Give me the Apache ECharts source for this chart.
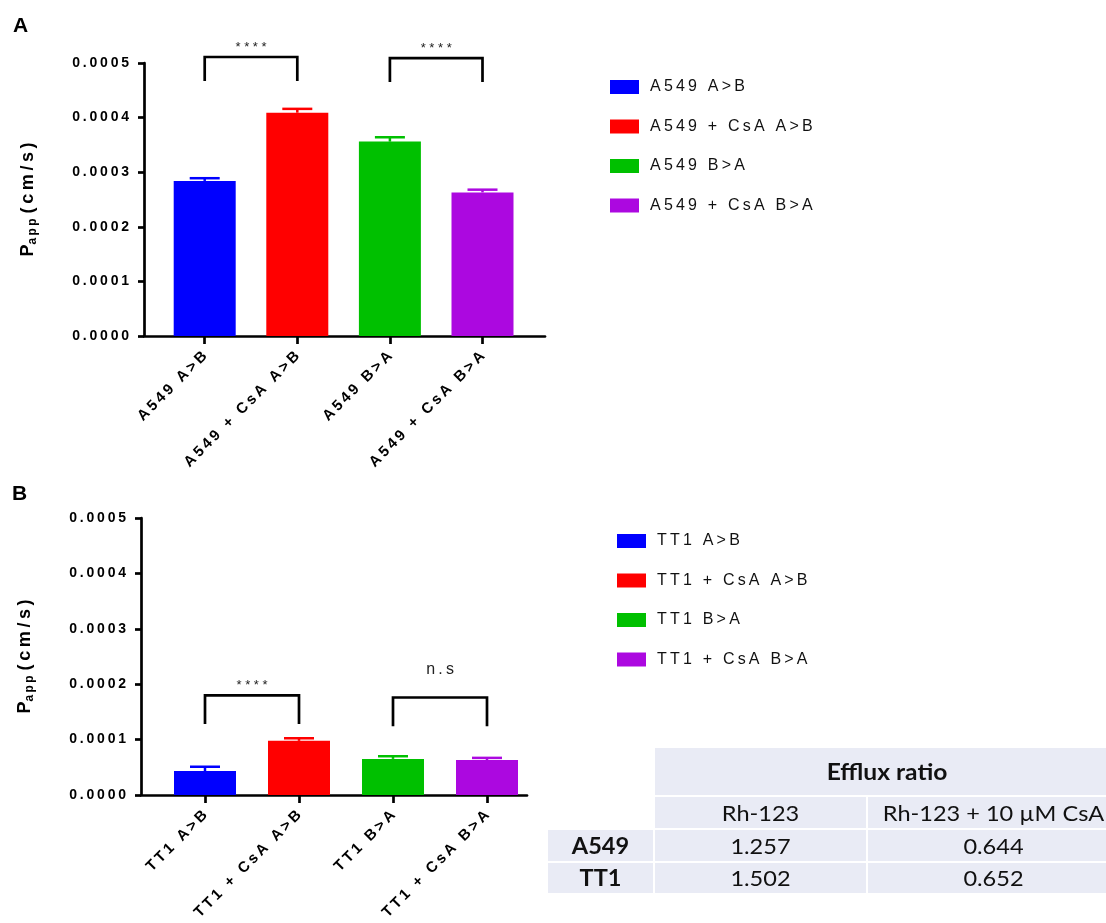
<!DOCTYPE html>
<html>
<head>
<meta charset="utf-8">
<script src="https://cdn.jsdelivr.net/npm/echarts@6/dist/echarts.min.js"></script>
<style>
  html, body { margin: 0; padding: 0; background: #ffffff; }
  #chart { width: 1106px; height: 923px; }
</style>
</head>
<body>
<div id="chart"></div>
<script>
// Panel A: A549 monolayers, apparent permeability (cm/s)
const categoriesA = ['A549 A>B', 'A549 + CsA A>B', 'A549 B>A', 'A549 + CsA B>A'];
const pappA = [0.000284, 0.000409, 0.000356, 0.000263];
const semA = [0.000005, 0.000007, 0.000008, 0.000005];

// Panel B: TT1 monolayers, apparent permeability (cm/s)
const categoriesB = ['TT1 A>B', 'TT1 + CsA A>B', 'TT1 B>A', 'TT1 + CsA B>A'];
const pappB = [0.0000432, 0.0000977, 0.0000652, 0.0000630];
const semB = [0.0000078, 0.0000047, 0.0000048, 0.0000040];

// Shared y axis ticks
const yTicks = [0, 0.0001, 0.0002, 0.0003, 0.0004, 0.0005];

// Significance brackets: [from, to, leg end, bracket top, label]
const sigA = [[0, 1, 0.000467, 0.000511, '****'], [2, 3, 0.000465, 0.000509, '****']];
const sigB = [[0, 1, 0.000128, 0.000180, '****'], [2, 3, 0.000124, 0.000176, 'n.s']];

// Efflux ratio table
const tableTitle = 'Efflux ratio';
const tableColumns = ['Rh-123', 'Rh-123 + 10 µM CsA'];
const tableRows = ['A549', 'TT1'];
const effluxRh123 = [1.257, 1.502];
const effluxRh123CsA = [0.644, 0.652];

// ---- styling ----
const palette = ['#0000FF', '#FF0000', '#00C000', '#AC08E0'];
const FONT = 'Liberation Sans, Arial, sans-serif';
const TABLE_FONT = 'Lato, "Open Sans", sans-serif';
const AXIS_W = 2.7;
const labelGap = { '****': 3, 'n.s': 20 };

// Prism-style tracking: characters set apart by a thin space
const spaced = s => s.split('').join('\u2009');

function barSeries(categories, values, axisIdx) {
  return categories.map((name, i) => ({
    type: 'bar', name,
    xAxisIndex: axisIdx, yAxisIndex: axisIdx,
    barWidth: 62, barGap: '-100%',
    data: values.map((v, j) => (j === i ? v : '-')),
    itemStyle: { color: palette[i] },
    z: 3, silent: true
  }));
}

function errorSeries(values, errs, axisIdx) {
  return {
    type: 'custom', xAxisIndex: axisIdx, yAxisIndex: axisIdx, z: 4, silent: true,
    data: values.map((v, i) => [i, v, v + errs[i]]),
    renderItem(params, api) {
      const i = api.value(0);
      const base = api.coord([i, api.value(1)]);
      const top = api.coord([i, api.value(2)]);
      const col = palette[i];
      return {
        type: 'group',
        children: [
          { type: 'line', shape: { x1: base[0], y1: base[1], x2: top[0], y2: top[1] },
            style: { stroke: col, lineWidth: 2.5 } },
          { type: 'line', shape: { x1: top[0] - 15, y1: top[1], x2: top[0] + 15, y2: top[1] },
            style: { stroke: col, lineWidth: 2.5 } }
        ]
      };
    }
  };
}

function bracketSeries(sig, axisIdx) {
  return {
    type: 'custom', xAxisIndex: axisIdx, yAxisIndex: axisIdx, z: 5, silent: true, clip: false,
    data: sig.map(s => [s[0], s[1], s[2], s[3]]),
    renderItem(params, api) {
      const label = sig[params.dataIndex][4];
      const a = api.coord([api.value(0), api.value(2)]);
      const b = api.coord([api.value(0), api.value(3)]);
      const c = api.coord([api.value(1), api.value(3)]);
      const d = api.coord([api.value(1), api.value(2)]);
      const isStars = label === '****';
      return {
        type: 'group',
        children: [
          { type: 'polyline', shape: { points: [a, b, c, d] },
            style: { stroke: '#000', lineWidth: AXIS_W, fill: null } },
          { type: 'text', x: (b[0] + c[0]) / 2, y: b[1] - labelGap[label],
            style: { text: isStars ? label.split('').join(' ') : spaced(label),
                     align: 'center', verticalAlign: 'bottom',
                     font: (isStars ? '13px ' : '16px ') + FONT, fill: '#222' } }
        ]
      };
    }
  };
}

const yRange = { min: yTicks[0], max: yTicks[yTicks.length - 1], interval: yTicks[1] - yTicks[0] };

function categoryAxis(categories, gridIndex) {
  return {
    type: 'category', gridIndex, data: categories,
    axisLine: { show: false },
    axisTick: { show: true, alignWithLabel: true, length: 8, lineStyle: { color: '#000', width: AXIS_W } },
    axisLabel: { rotate: 45, margin: 18, interval: 0, formatter: spaced,
                 fontFamily: FONT, fontWeight: 'bold', fontSize: 15, color: '#000' },
    splitLine: { show: false }
  };
}

function frameXAxis(gridIndex) {
  return {
    type: 'value', gridIndex, min: 0, max: 1,
    axisLine: { show: true, lineStyle: { color: '#000', width: AXIS_W } },
    axisTick: { show: false }, axisLabel: { show: false }, splitLine: { show: false }
  };
}

function frameYAxis(gridIndex) {
  return Object.assign({
    type: 'value', gridIndex,
    name: '{b|P}{s|' + spaced('app') + '}{b| ' + spaced('(cm/s)') + '}',
    nameLocation: 'middle', nameGap: 105, nameRotate: 90,
    nameTextStyle: {
      rich: {
        b: { fontFamily: FONT, fontWeight: 'bold', fontSize: 18, color: '#000', lineHeight: 22, verticalAlign: 'middle' },
        s: { fontFamily: FONT, fontWeight: 'bold', fontSize: 12, color: '#000', lineHeight: 12, verticalAlign: 'bottom' }
      }
    },
    axisLine: { show: true, lineStyle: { color: '#000', width: AXIS_W } },
    axisTick: { show: true, length: 6, lineStyle: { color: '#000', width: AXIS_W } },
    axisLabel: { margin: 15, formatter: v => spaced(v.toFixed(4)),
                 fontFamily: FONT, fontWeight: 'bold', fontSize: 14, color: '#000' },
    splitLine: { show: false }
  }, yRange);
}

function hiddenYAxis(gridIndex) {
  return Object.assign({ type: 'value', gridIndex, show: false, splitLine: { show: false } }, yRange);
}

// ---- table laid out on its own grid (last column runs past the page edge) ----
const colWidths = [107, 213, 253];
const rowHeights = [49, 33, 33, 32];
const tableVisibleWidth = 559;
const colEdges = colWidths.reduce((acc, w) => acc.concat(acc[acc.length - 1] + w), [0]);
const rowEdges = rowHeights.reduce((acc, h) => acc.concat(acc[acc.length - 1] + h), [0]);

const tableCells = [
  { c0: 1, c1: 3, r: 0, text: tableTitle, bold: true, size: 23 },
  { c0: 1, c1: 2, r: 1, text: tableColumns[0], bold: false, size: 22 },
  { c0: 2, c1: 3, r: 1, text: tableColumns[1], bold: false, size: 22 }
];
tableRows.forEach((name, i) => {
  tableCells.push({ c0: 0, c1: 1, r: 2 + i, text: name, bold: true, size: 22 });
  tableCells.push({ c0: 1, c1: 2, r: 2 + i, text: effluxRh123[i].toFixed(3), bold: false, size: 22 });
  tableCells.push({ c0: 2, c1: 3, r: 2 + i, text: effluxRh123CsA[i].toFixed(3), bold: false, size: 22 });
});

const tableSeries = {
  type: 'custom', xAxisIndex: 4, yAxisIndex: 4, silent: true, clip: false,
  data: tableCells.map(c => [colEdges[c.c0], colEdges[c.c1], rowEdges[c.r], rowEdges[c.r + 1]]),
  renderItem(params, api) {
    const cell = tableCells[params.dataIndex];
    const p0 = api.coord([api.value(0), api.value(2)]);
    const p1 = api.coord([api.value(1), api.value(3)]);
    const x = Math.min(p0[0], p1[0]), y = Math.min(p0[1], p1[1]);
    const w = Math.abs(p1[0] - p0[0]), h = Math.abs(p1[1] - p0[1]);
    return {
      type: 'group',
      children: [
        { type: 'rect', shape: { x: x + 1, y: y + 1, width: w - 2, height: h - 2 },
          style: { fill: '#E9EBF5' } },
        { type: 'text', x: x + w / 2, y: y + h / 2 + 1, scaleX: 1.07,
          style: { text: cell.text, align: 'center', verticalAlign: 'middle',
                   font: (cell.bold ? 'bold ' : '') + cell.size + 'px ' + TABLE_FONT, fill: '#111' } }
      ]
    };
  }
};

function legendFor(categories, left, top) {
  return {
    data: categories, orient: 'vertical', left, top,
    icon: 'rect', itemWidth: 29, itemHeight: 14, itemGap: 23.5,
    selectedMode: false, formatter: spaced,
    textStyle: { fontFamily: FONT, fontSize: 16, color: '#111', lineHeight: 14, padding: [0, 0, 0, 6] }
  };
}

const chart = echarts.init(document.getElementById('chart'), null, { renderer: 'canvas' });
chart.setOption({
  animation: false,
  backgroundColor: '#ffffff',
  graphic: [
    { type: 'text', left: 13, top: 16, style: { text: 'A', font: 'bold 21px ' + FONT, fill: '#000' } },
    { type: 'text', left: 12, top: 484, style: { text: 'B', font: 'bold 21px ' + FONT, fill: '#000' } }
  ],
  legend: [legendFor(categoriesA, 605, 74), legendFor(categoriesB, 612, 528)],
  grid: [
    { left: 158.4, top: 63, width: 370.4, height: 273 },   // A bars
    { left: 144, top: 63, width: 401, height: 273 },       // A axes frame
    { left: 158, top: 518, width: 376, height: 277 },      // B bars
    { left: 141, top: 518, width: 386, height: 277 },      // B axes frame
    { left: 547, top: 747, width: tableVisibleWidth, height: rowEdges[rowEdges.length - 1] } // table
  ],
  xAxis: [
    categoryAxis(categoriesA, 0),
    frameXAxis(1),
    categoryAxis(categoriesB, 2),
    frameXAxis(3),
    { type: 'value', gridIndex: 4, min: 0, max: tableVisibleWidth, show: false }
  ],
  yAxis: [
    hiddenYAxis(0),
    frameYAxis(1),
    hiddenYAxis(2),
    frameYAxis(3),
    { type: 'value', gridIndex: 4, min: 0, max: rowEdges[rowEdges.length - 1], inverse: true, show: false }
  ],
  series: [
    ...barSeries(categoriesA, pappA, 0),
    errorSeries(pappA, semA, 0),
    bracketSeries(sigA, 0),
    ...barSeries(categoriesB, pappB, 2),
    errorSeries(pappB, semB, 2),
    bracketSeries(sigB, 2),
    tableSeries
  ]
});
</script>
</body>
</html>
